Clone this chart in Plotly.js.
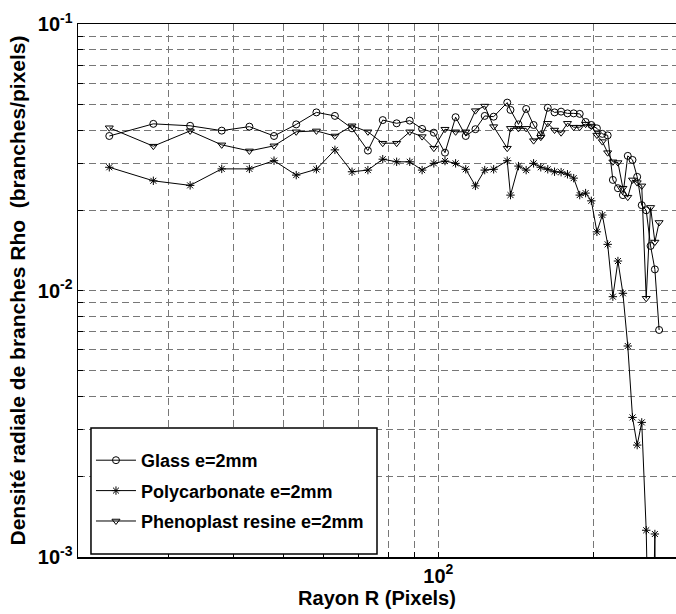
<!DOCTYPE html>
<html><head><meta charset="utf-8">
<script src="https://cdn.plot.ly/plotly-3.0.1.min.js"></script>
<style>body{margin:0;background:#fff}#chart{width:676px;height:614px}</style>
</head><body><div id="chart"></div>
<script>
// Radius values (pixels)
const radius = [23,28,33,38,43,48,53,58,63,68,73,78,83,88,93,98,103,108,113,118,123,128,136,138,143,148,153,158,163,168,173,178,183,188,193,198,203,208,213,218,223,228,233,238,243,248,253,258,263,268];
// Radial branch density (branches/pixels)
const glass = [0.0380,0.0422,0.0415,0.0398,0.0412,0.0380,0.0420,0.0466,0.0452,0.0406,0.0335,0.0436,0.0424,0.0434,0.0404,0.0391,0.0329,0.0447,0.0380,0.0403,0.0452,0.0449,0.0507,0.0476,0.0420,0.0480,0.0418,0.0383,0.0485,0.0466,0.0469,0.0462,0.0462,0.0460,0.0429,0.0418,0.0406,0.0387,0.0382,0.0260,0.0242,0.0228,0.0320,0.0309,0.0267,0.0209,0.0200,0.0147,0.0120,0.00711];
const polycarbonate = [0.0290,0.0258,0.0248,0.0286,0.0286,0.0307,0.0271,0.0285,0.0337,0.0279,0.0283,0.0311,0.0304,0.0304,0.0283,0.0300,0.0306,0.0300,0.0285,0.0247,0.0283,0.0285,0.0307,0.0228,0.0293,0.0283,0.0300,0.0290,0.0285,0.0279,0.0278,0.0273,0.0264,0.0228,0.0232,0.0217,0.0166,0.0192,0.0149,0.00948,0.0129,0.00976,0.00619,0.00334,0.00263,0.00320,0.00126,0.0002,0.00122,0.00001];
const phenoplast = [0.0408,0.0348,0.0397,0.0352,0.0334,0.0349,0.0394,0.0397,0.0380,0.0415,0.0394,0.0357,0.0357,0.0394,0.0378,0.0342,0.0403,0.0394,0.0394,0.0473,0.0492,0.0412,0.0342,0.0406,0.0406,0.0406,0.0365,0.0376,0.0424,0.0400,0.0391,0.0424,0.0410,0.0410,0.0421,0.0414,0.0383,0.0362,0.0329,0.0304,0.0302,0.0242,0.0224,0.0260,0.0254,0.0247,0.00935,0.0205,0.0152,0.0180];
const seriesNames = ["Glass e=2mm","Polycarbonate e=2mm","Phenoplast resine e=2mm"];
const xTickVals = [20,30,40,50,60,70,80,90,100,200,300];
const xTickText = ["","","","","","","","","10<sup>2</sup>","",""];
const yTickVals = [0.001,0.002,0.003,0.004,0.005,0.006,0.007,0.008,0.009,0.01,0.02,0.03,0.04,0.05,0.06,0.07,0.08,0.09,0.1];
const yTickText = ["10<sup>-3</sup>","","","","","","","","","10<sup>-2</sup>","","","","","","","","","10<sup>-1</sup>"];

const mk = (sym) => ({symbol: sym, size: 7, color: "#000", line: {color: "#000", width: 1}});
const ln = {color: "#000", width: 1};
const traces = [
  {x: radius, y: glass, name: seriesNames[0], mode: "lines+markers", line: ln, marker: mk("circle-open"), legendgroup: "a"},
  {x: radius, y: polycarbonate, name: seriesNames[1], mode: "lines+markers", line: ln, marker: mk("asterisk-open"), legendgroup: "b"},
  {x: radius, y: phenoplast, name: seriesNames[2], mode: "lines+markers", line: ln, marker: mk("triangle-down-open"), legendgroup: "c"}
];
const bold = {family: "Arial, Liberation Sans, sans-serif", size: 20, color: "#000", weight: "bold"};
const boldY = {family: "Arial, Liberation Sans, sans-serif", size: 21, color: "#000", weight: "bold"};
const layout = {
  width: 676, height: 614,
  margin: {l: 78, r: 0, t: 24, b: 57},
  paper_bgcolor: "#fff", plot_bgcolor: "#fff",
  showlegend: true,
  legend: {x: 0.0217, xanchor: "left", y: 0.0319, yanchor: "bottom", bgcolor: "rgba(0,0,0,0)",
    borderwidth: 0, traceorder: "grouped", tracegroupgap: 4, itemwidth: 40,
    font: {family: "Arial, Liberation Sans, sans-serif", size: 18, color: "#000", weight: "bold"}},
  shapes: [{type: "rect", xref: "paper", yref: "paper", x0: 0.0217, x1: 0.5, y0: 0.0056, y1: 0.242,
    fillcolor: "#fff", line: {color: "#000", width: 1.5}, layer: "above"}],
  xaxis: {type: "log", range: [Math.log10(20), Math.log10(289)], tickvals: xTickVals, ticktext: xTickText,
    ticks: "inside", ticklen: 5, tickcolor: "#000", showline: true, linecolor: "#000", linewidth: 1.5, mirror: true,
    showgrid: true, gridcolor: "#777", griddash: "7px,4px", gridwidth: 1, zeroline: false,
    tickfont: bold, title: {text: "Rayon R (Pixels)", font: bold, standoff: 4}},
  yaxis: {type: "log", range: [-3, -1], tickvals: yTickVals, ticktext: yTickText,
    ticks: "inside", ticklen: 5, tickcolor: "#000", showline: true, linecolor: "#000", linewidth: 1.5, mirror: false,
    showgrid: true, gridcolor: "#777", griddash: "7px,4px", gridwidth: 1, zeroline: false,
    tickfont: bold, title: {text: "Densité radiale de branches Rho  (branches/pixels)", font: boldY, standoff: 6}}
};
Plotly.newPlot("chart", traces, layout, {staticPlot: true, displayModeBar: false});
</script></body></html>
